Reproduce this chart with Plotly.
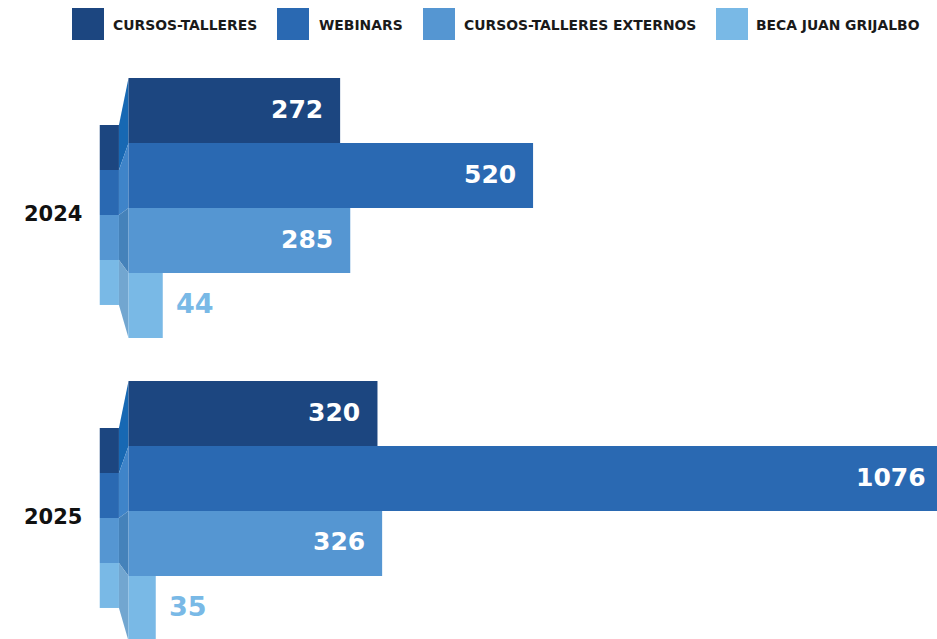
import plotly.graph_objects as go

years = ["2024", "2025"]
series = ["CURSOS-TALLERES", "WEBINARS", "CURSOS-TALLERES EXTERNOS", "BECA JUAN GRIJALBO"]
cursos_talleres = [272, 320]
webinars = [520, 1076]
cursos_externos = [285, 326]
beca_juan_grijalbo = [44, 35]
values = [cursos_talleres, webinars, cursos_externos, beca_juan_grijalbo]

colors = ["#1c4680", "#2a69b2", "#5596d2", "#79b9e6"]
side_colors = ["#1768b3", "#3f84c9", "#4582ba", "#72a6d0"]

W, H = 937, 639
MT = 50
FONT = "DejaVu Sans"

XR = [-165.2, 1039.2]
YR = [1.4224, -0.5215]
BARGAP = 0.142

fig = go.Figure()
ypos = list(range(len(years)))
for i, (name, vals) in enumerate(zip(series, values)):
    fig.add_trace(go.Bar(
        name=name, orientation="h", y=ypos, x=vals,
        marker=dict(color=colors[i], line=dict(width=0)),
        showlegend=False, hoverinfo="x+name",
    ))

n = len(series)
group_w = 1 - BARGAP
bar_w = group_w / n
back_w = 0.1485
back_off = 0.023
bx0, bx1 = -37.0, -12.3
shapes = []
annotations = []
for g in ypos:
    for i in range(n):
        ft = g - group_w / 2 + i * bar_w
        fb = ft + bar_w
        bt = g + back_off - 2 * back_w + i * back_w
        bb = bt + back_w
        shapes.append(dict(type="rect", xref="x", yref="y", x0=bx0, x1=bx1, y0=bt, y1=bb,
                           fillcolor=colors[i], line=dict(width=0), layer="below"))
        shapes.append(dict(type="path", xref="x", yref="y",
                           path=f"M {bx1},{bt} L 0,{ft} L 0,{fb} L {bx1},{bb} Z",
                           fillcolor=side_colors[i], line=dict(width=0), layer="below"))
        v = values[i][g]
        yc = (ft + fb) / 2 - 0.005
        if v < 100:
            annotations.append(dict(text=str(v), xref="x", yref="y", x=v, y=yc,
                                    xanchor="left", yanchor="middle", xshift=11, showarrow=False,
                                    font=dict(family=FONT, size=27, color=colors[3], weight="bold")))
        else:
            clipped = v > XR[1]
            annotations.append(dict(text=str(v), xref="x", yref="y", x=min(v, XR[1]), y=yc,
                                    xanchor="right", yanchor="middle",
                                    xshift=-9 if clipped else -15, showarrow=False,
                                    font=dict(family=FONT, size=25, color="white", weight="bold")))

def px(x):
    return x / W

def py(y):
    return 1 - (y - MT) / (H - MT)

for g, yr in zip(ypos, years):
    annotations.append(dict(text=yr, xref="paper", yref="y", x=px(84), y=g + 0.02,
                            xanchor="right", yanchor="middle", showarrow=False,
                            font=dict(family=FONT, size=21, color="#111111", weight="bold")))

leg_sq = [72, 277, 423, 716]
leg_tx = [111, 317, 462, 754]
for i, name in enumerate(series):
    shapes.append(dict(type="rect", xref="paper", yref="paper",
                       x0=px(leg_sq[i]), x1=px(leg_sq[i] + 32), y0=py(40), y1=py(8),
                       fillcolor=colors[i], line=dict(width=0)))
    annotations.append(dict(text=name, xref="paper", yref="paper", x=px(leg_tx[i]), y=py(25),
                            xanchor="left", yanchor="middle", showarrow=False,
                            font=dict(family=FONT, size=13.9, color="#1a1a1a", weight="bold")))

fig.update_layout(
    width=W, height=H,
    margin=dict(l=0, r=0, t=MT, b=0),
    paper_bgcolor="white", plot_bgcolor="white",
    barmode="group", bargap=BARGAP, bargroupgap=0,
    xaxis=dict(range=XR, visible=False, fixedrange=True),
    yaxis=dict(range=YR, visible=False, fixedrange=True),
    shapes=shapes, annotations=annotations,
)

fig.write_html("out.html",
               config={"displayModeBar": False},
               post_script="document.body.style.margin='0px';document.body.style.overflow='hidden';")
